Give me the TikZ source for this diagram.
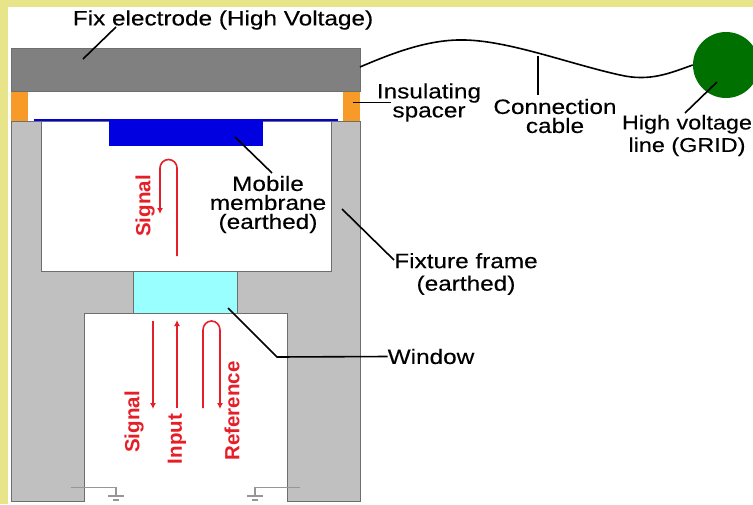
\documentclass[tikz,border=0pt]{standalone}
\usepackage{fontspec}
\setmainfont[FakeStretch=1.17,FakeBold=0.25]{Liberation Sans}
\newfontfamily\beamfont[Scale=1]{Liberation Sans}
\usetikzlibrary{arrows.meta}
\tikzset{
  lbl/.style={inner sep=0pt, align=center, text=black, font=\fontsize{20.8}{19}\selectfont},
  redlbl/.style={inner sep=0pt, rotate=90, text=beamred, font=\beamfont\fontsize{20.5}{19}\selectfont\bfseries},
  leader/.style={draw=black, line width=1.6pt},
  beam/.style={draw=beamred, line width=1.6pt},
  beamarrow/.style={beam, -{Latex[length=6pt,width=6pt]}},
  earth/.style={draw=earthgray, line width=1.2pt},
  edge/.style={draw=edgegray, line width=0.8pt}
}
\begin{document}
\begin{tikzpicture}[x=1pt,y=-1pt]
  \definecolor{pagebg}{RGB}{232,228,138}
  \definecolor{electrode}{RGB}{128,128,128}
  \definecolor{spacer}{RGB}{247,154,40}
  \definecolor{frame}{RGB}{192,192,192}
  \definecolor{windowcol}{RGB}{153,255,255}
  \definecolor{membrane}{RGB}{0,0,224}
  \definecolor{beamred}{RGB}{230,30,40}
  \definecolor{gridgreen}{RGB}{0,112,0}
  \definecolor{earthgray}{RGB}{150,150,150}
  \definecolor{edgegray}{RGB}{110,110,110}

  \useasboundingbox (0,0) rectangle (753,504);
  \fill[pagebg] (0,0) rectangle (753,504);
  \fill[white] (8,7) rectangle (753,504);

  % Draw the housing first

  \draw[edge, fill=frame] (11,121) -- (360,121) -- (360,501) -- (287,501) -- (287,313)
    -- (84,313) -- (84,501) -- (11,501) -- cycle;
  \draw[edge, fill=white] (41,121) rectangle (331,271);
  \draw[edge, fill=windowcol] (133,271) rectangle (237,313);
  \draw[edge, fill=electrode] (11,48) rectangle (360,91);
  \foreach \xpos in {11, 343}{
    \fill[spacer] (\xpos,92) rectangle (\xpos+17,121);
  }
  \draw[draw=membrane, line width=2.2pt] (34,120) -- (338,120);
  \fill[membrane] (109,120) rectangle (263,146);

  % Then the red beams

  \draw[beamarrow] (177,256) -- (177,168) arc (0:-180:8.5) -- (160,214);
  \draw[beamarrow] (153,321) -- (153,409);
  \draw[beamarrow] (177,408) -- (177,320);
  \draw[beamarrow] (203,408) -- (203,330) arc (180:360:8.5 and 9) -- (220,409);

  \node[redlbl] (signalUp) at (145,206) {Signal};
  \node[redlbl] (signalDown) at (134,422) {Signal};
  \node[redlbl] (inputUp) at (177,439) {Input};
  \node[redlbl] (referenceUp) at (232,411) {Reference};

  % Earth symbols

  \foreach \xline/\xdrop in {71/116, 300/255}{
    \draw[earth] (\xline,487.5) -- (\xdrop,487.5) -- (\xdrop,497);
    \draw[earth] (\xdrop-8,496) -- (\xdrop+8,496);
    \draw[earth] (\xdrop-3,500) -- (\xdrop+3,500);
  }

  % Cable and grid

  \node[draw=none, fill=gridgreen, circle, minimum size=66pt, inner sep=0pt] (grid) at (726,65) {};
  \coordinate (cableStart) at (360,67);
  \draw[leader] (cableStart) .. controls (395,52) and (430,39) .. (465,40)
    .. controls (510,41) and (570,64) .. (620,75)
    .. controls (650,82) and (670,73) .. (grid.west);

  % Labels and their leader lines

  \node[lbl] (fixLabel) at (223,20) {Fix electrode (High Voltage)};
  \node[lbl] (spacerLabel) at (429,102.5) {Insulating\\spacer};
  \node[lbl] (cableLabel) at (555,116) {Connection\\cable};
  \node[lbl, font=\fontsize{20}{19}\selectfont] (gridLabel) at (687,135.5) {High voltage\\[3.5pt]line (GRID)};
  \node[lbl] (membraneLabel) at (268,204.5) {Mobile\\membrane\\(earthed)};
  \node[lbl] (frameLabel) at (466,274) {Fixture frame\\[3.5pt](earthed)};
  \node[lbl] (windowLabel) at (431,356.5) {Window};

  \coordinate (fixTip) at (83,59);
  \coordinate (fixEnd) at (116,27);
  \coordinate (spacerTip) at (353,102.5);
  \coordinate (spacerEnd) at (391,102.5);
  \coordinate (cableTip) at (538,56);
  \coordinate (cableEnd) at (538,95);
  \coordinate (gridTip) at (717,82);
  \coordinate (gridEnd) at (685,113);
  \coordinate (membraneTip) at (235,137);
  \coordinate (membraneEnd) at (272,173);
  \coordinate (frameTip) at (342,209);
  \coordinate (frameEnd) at (394,260);
  \coordinate (windowTip) at (228,308);
  \coordinate (windowBend) at (277,357);

  \draw[leader] (fixTip) -- (fixEnd);
  \draw[leader] (spacerTip) -- (spacerEnd);
  \draw[leader] (cableTip) -- (cableEnd);
  \draw[leader] (gridTip) -- (gridEnd);
  \draw[leader] (membraneTip) -- (membraneEnd);
  \draw[leader] (frameTip) -- (frameEnd);
  \draw[leader] (windowTip) -- (windowBend) -- (windowLabel.west);
\end{tikzpicture}
\end{document}
